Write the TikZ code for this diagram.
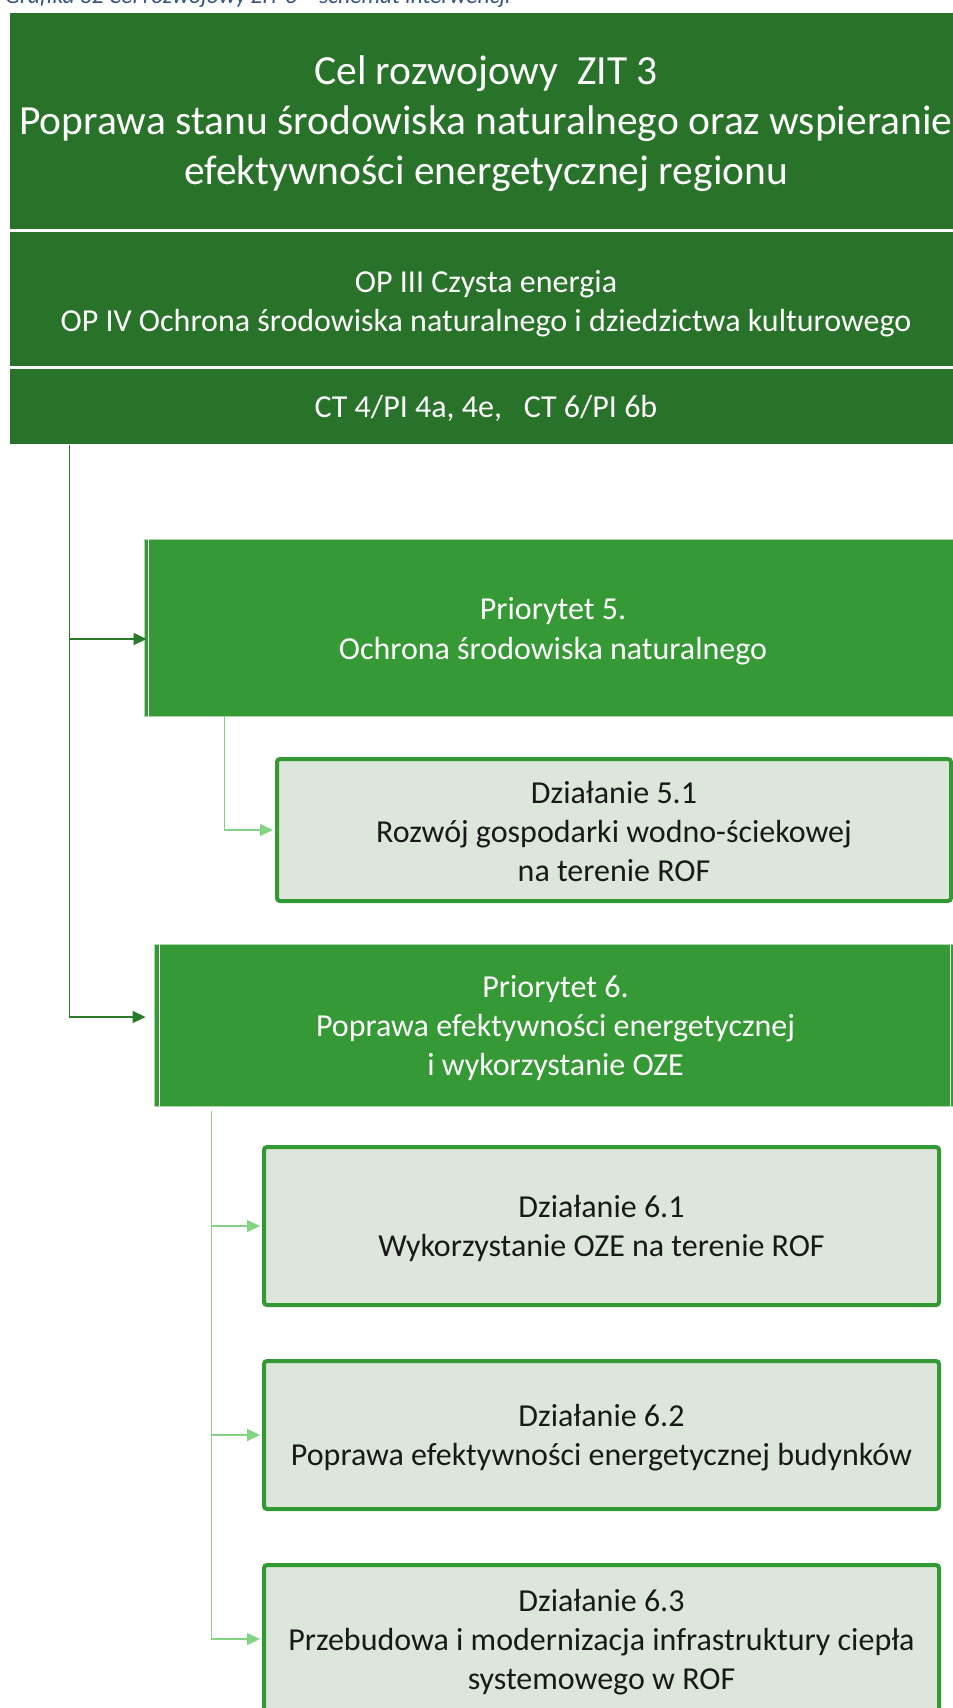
\documentclass[tikz,border=0pt]{standalone}
\usepackage{fontspec}
\setmainfont{Carlito}
\usetikzlibrary{arrows.meta,calc}
\definecolor{dkgreen}{RGB}{40,114,41}
\definecolor{midgreen}{RGB}{53,154,53}
\definecolor{actfill}{RGB}{220,230,218}
\definecolor{actborder}{RGB}{51,153,51}
\definecolor{ltline}{RGB}{130,212,130}
\definecolor{dkline}{RGB}{42,122,42}
\definecolor{capblue}{RGB}{54,84,130}
\begin{document}
\begin{tikzpicture}[x=1pt,y=-1pt,
  topbox/.style={fill=dkgreen, draw=white, line width=1pt, inner sep=0pt, minimum width=954pt},
  prio/.style={fill=midgreen, draw=white!60!midgreen, line width=0.8pt, inner sep=0pt},
  stripe/.style={draw=white, line width=1.2pt},
  act/.style={fill=actfill, draw=actborder, line width=4pt, rounded corners=3pt, inner sep=0pt},
  wtxt/.style={text=white, align=center, inner sep=0pt},
  btxt/.style={text=black!90, align=center, inner sep=0pt, font=\fontsize{32}{39}\selectfont},
  dkconn/.style={draw=dkline, line width=1.5pt, -{Triangle[length=13pt,width=12pt]}},
  ltconn/.style={draw=ltline, line width=1.6pt, -{Triangle[length=13pt,width=12pt]}}
]
\useasboundingbox (0,0) rectangle (953,1708);
\clip (0,0) rectangle (953,1708);

\node[anchor=base west, inner sep=0pt, text=capblue, font=\fontsize{23.5}{28}\selectfont\itshape] (cap) at (5,3) {Grafika 32 Cel rozwojowy ZIT 3 – schemat interwencji};

% top blocks
\node[topbox, minimum height=217pt] (goal) at (486,120.5) {};
\node[wtxt, font=\fontsize{41.5}{50}\selectfont] (goal-t) at ([yshift=-3pt]goal.center)
  {Cel rozwojowy\ \ ZIT 3\\Poprawa stanu środowiska naturalnego oraz wspieranie\\efektywności energetycznej regionu};
\node[topbox, minimum height=135pt] (op) at (486,298.5) {};
\node[wtxt, font=\fontsize{32}{39}\selectfont] (op-t) at ([yshift=-5pt]op.center)
  {OP III Czysta energia\\OP IV Ochrona środowiska naturalnego i dziedzictwa kulturowego};
\node[topbox, minimum height=76pt] (ct) at (486,406) {};
\node[wtxt, font=\fontsize{32}{39}\selectfont] (ct-t) at ([yshift=-2pt]ct.center)
  {CT 4/PI 4a, 4e,\ \ \ CT 6/PI 6b};

% priority 5
\node[prio, minimum width=818pt, minimum height=177pt] (p5) at (553,627.5) {};
\draw[stripe] ([xshift=5pt]p5.north west) -- ([xshift=5pt]p5.south west);
\node[wtxt, font=\fontsize{32}{40}\selectfont] (p5-t) at ([yshift=-3.5pt]p5.center)
  {Priorytet 5.\\Ochrona środowiska naturalnego};

\node[act, minimum width=674pt, minimum height=142pt] (d51) at (614,830) {};
\node[btxt] (d51-t) at ([yshift=-1pt]d51.center)
  {Działanie 5.1\\Rozwój gospodarki wodno-ściekowej\\na terenie ROF};

% priority 6
\node[prio, minimum width=803pt, minimum height=162pt] (p6) at (555.5,1025) {};
\draw[stripe] ([xshift=6pt]p6.north west) -- ([xshift=6pt]p6.south west);
\draw[stripe] ([xshift=-7pt]p6.north east) -- ([xshift=-7pt]p6.south east);
\node[wtxt, font=\fontsize{32}{39}\selectfont] (p6-t) at ([yshift=-3pt]p6.center)
  {Priorytet 6.\\Poprawa efektywności energetycznej\\i wykorzystanie OZE};

\node[act, minimum width=675pt, minimum height=158pt] (d61) at (601.5,1226) {};
\node[btxt] (d61-t) at ([yshift=-2.5pt]d61.center)
  {Działanie 6.1\\Wykorzystanie OZE na terenie ROF};
\node[act, minimum width=675pt, minimum height=148pt] (d62) at (601.5,1435) {};
\node[btxt] (d62-t) at ([yshift=-2.5pt]d62.center)
  {Działanie 6.2\\Poprawa efektywności energetycznej budynków};
\node[act, minimum width=675pt, minimum height=148pt] (d63) at (601.5,1639) {};
\node[btxt] (d63-t) at ([yshift=-3pt]d63.center)
  {Działanie 6.3\\Przebudowa i modernizacja infrastruktury ciepła\\systemowego w ROF};

% connectors
\draw[dkconn] ([xshift=61pt]ct.south west) |- ([xshift=3pt,yshift=-11.5pt]p5.west);
\draw[dkconn] ([xshift=61pt]ct.south west) |- ([xshift=-8pt,yshift=8pt]p6.west);

\draw[ltconn] ([xshift=81pt]p5.south west) |- ([xshift=-2pt]d51.west);
\draw[ltconn, shorten <=5pt] ([xshift=58pt]p6.south west) |- ([xshift=-2pt]d61.west);
\draw[ltconn, shorten <=5pt] ([xshift=58pt]p6.south west) |- ([xshift=-2pt]d62.west);
\draw[ltconn, shorten <=5pt] ([xshift=58pt]p6.south west) |- ([xshift=-2pt]d63.west);
\end{tikzpicture}
\end{document}
